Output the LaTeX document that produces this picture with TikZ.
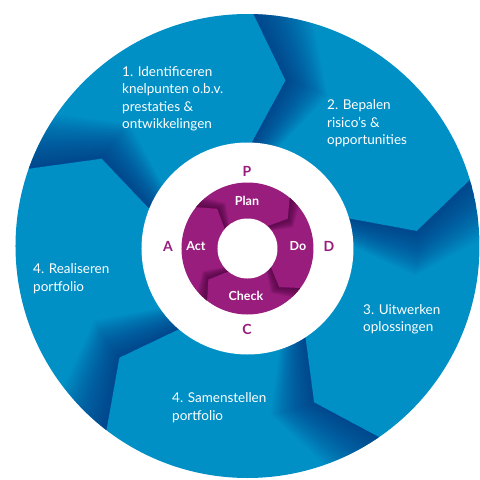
\documentclass[tikz,border=0pt]{standalone}
\usepackage{fontspec}
\setmainfont{Lato}
\definecolor{ringblue}{RGB}{0,144,198}
\definecolor{ringnavy}{RGB}{0,48,125}
\definecolor{pdcapurple}{RGB}{152,29,125}
\definecolor{pdcadark}{RGB}{80,8,66}
\tikzset{
  steptext/.style={anchor=west, align=left, text=white, inner sep=0pt, font=\fontsize{13.5}{17.5}\selectfont},
  pdcaletter/.style={text=pdcapurple, inner sep=0pt, font=\fontsize{14}{16}\selectfont\bfseries},
  pdcaword/.style={text=white, inner sep=0pt, font=\fontsize{12.5}{14}\selectfont\bfseries},
}
\begin{document}
\begin{tikzpicture}[x=1pt,y=1pt]
    \useasboundingbox (-247.5,-234) rectangle (232.5,246);
    % outer ring with the five steps
    \fill[ringblue] (0,0) circle (232);
    \begin{scope}
    \clip (0,0) circle (232);
    \foreach \t in {160.5,88.5,16.5,-55.5,-127.5}{
      \foreach \a in {0.6,1.2,...,15}{
        \fill[ringnavy, fill opacity=0.045] (\t:232) -- (\t-11.5:170) -- (\t:100) arc[start angle=\t, end angle=\t-\a, radius=100]
          -- (\t-\a-11.5:170) -- (\t-\a:232) arc[start angle=\t-\a, end angle=\t, radius=232] -- cycle;
      }
    }
    \end{scope}
    \fill[white] (0,-2.5) circle (106);
    % PDCA ring
    \fill[pdcapurple] (0,-2.5) circle (66);
    \begin{scope}[shift={(0,-2.5)}]
    \clip (0,0) circle (66);
    \foreach \t in {50,-37,-128,141}{
      \foreach \a in {0.8,1.6,...,12}{
        \fill[pdcadark, fill opacity=0.09] (\t:66) -- (\t-14:50) -- (\t:28) arc[start angle=\t, end angle=\t-\a, radius=28]
          -- (\t-\a-14:50) -- (\t-\a:66) arc[start angle=\t-\a, end angle=\t, radius=66] -- cycle;
      }
    }
    \end{scope}
    \fill[white] (0,-2.5) circle (30);
    %% step labels
    \node[steptext] (step1) at (-125.5,147) {1. Identificeren\\knelpunten o.b.v.\\prestaties \&\\ontwikkelingen};
    \node[steptext] (step2) at (79.5,122.5) {2. Bepalen\\risico’s \&\\opportunities};
    \node[steptext] (step3) at (115.5,-73.5) {3. Uitwerken\\oplossingen};
    \node[steptext] (step4) at (-75.5,-161.5) {4. Samenstellen\\portfolio};
    \node[steptext] (step5) at (-214.5,-32.5) {4. Realiseren\\portfolio};
    % letters round the PDCA ring
    \node[pdcaletter] (letP) at (-0.5,75) {P}; \node[pdcaletter] (letD) at (81.5,0) {D};
    \node[pdcaletter] (letC) at (-0.5,-83) {C}; \node[pdcaletter] (letA) at (-79.5,0) {A};
    % words on the PDCA ring
    \node[pdcaword] (wPlan) at (-0.5,45) {Plan}; \node[pdcaword] (wDo) at (50.5,0) {Do};
    \node[pdcaword] (wCheck) at (-1.5,-50) {Check}; \node[pdcaword] (wAct) at (-51.5,0) {Act};
\end{tikzpicture}
\end{document}
